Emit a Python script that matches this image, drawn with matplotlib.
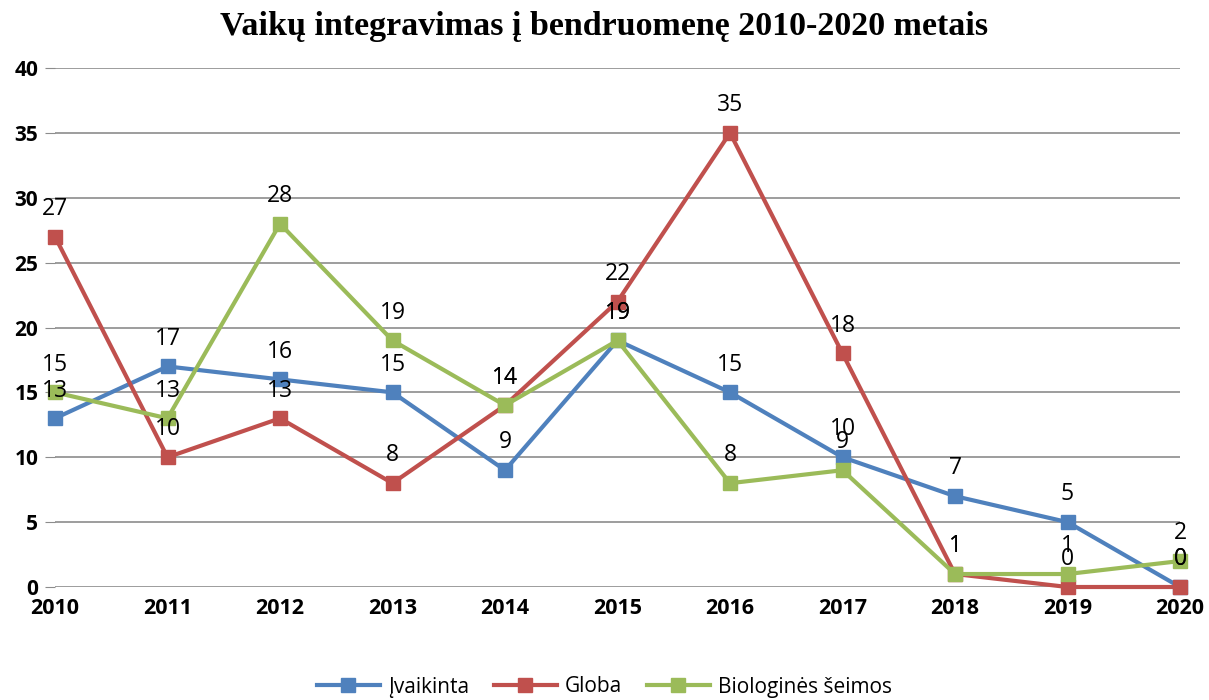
import matplotlib.pyplot as plt

years = ['2010', '2011', '2012', '2013', '2014', '2015', '2016', '2017', '2018', '2019', '2020']
ivaikinta = [13, 17, 16, 15, 9, 19, 15, 10, 7, 5, 0]
globa = [27, 10, 13, 8, 14, 22, 35, 18, 1, 0, 0]
biologines = [15, 13, 28, 19, 14, 19, 8, 9, 1, 1, 2]

series = [
    ('Įvaikinta', ivaikinta, '#4F81BD'),
    ('Globa', globa, '#C0504D'),
    ('Biologinės šeimos', biologines, '#9BBB59'),
]

fig = plt.figure(figsize=(12.09, 7.0), dpi=100)
ax = fig.add_axes([55 / 1209, 1 - 587 / 700, 1125 / 1209, 519 / 700])

x = list(range(len(years)))
for name, vals, color in series:
    ax.plot(x, vals, color=color, linewidth=3, marker='s', markersize=10,
            label=name, clip_on=False, zorder=3)
    for xi, v in zip(x, vals):
        ax.annotate(str(v), (xi, v), xytext=(0, 20), textcoords='offset points',
                    ha='center', va='center', fontsize=16.5, family='Open Sans',
                    zorder=5)

ax.set_xlim(0, len(years) - 1)
ax.set_ylim(0, 40)
ax.set_xticks(x)
ax.set_xticklabels(years, fontsize=15.5, fontweight='bold', family='Open Sans')
ax.set_yticks(range(0, 41, 5))
ax.set_yticklabels([str(v) for v in range(0, 41, 5)], fontsize=15,
                   fontweight='bold', family='Open Sans')
ax.tick_params(axis='x', length=0, pad=8)
ax.tick_params(axis='y', length=7, color='#8c8c8c', pad=5)
ax.grid(axis='y', color='#8c8c8c', linewidth=1.2)
ax.set_axisbelow(True)
for s in ax.spines.values():
    s.set_visible(False)

fig.suptitle('Vaikų integravimas į bendruomenę 2010-2020 metais', y=0.985,
             fontsize=24.5, fontweight='bold', family='Liberation Serif')

fig.legend(loc='center', bbox_to_anchor=(0.5, 1 - 687 / 700), ncol=3,
           frameon=False, prop={'family': 'Open Sans', 'size': 15},
           handlelength=3, columnspacing=1.2, handletextpad=0.4)

fig.savefig('out.png', dpi=100)
